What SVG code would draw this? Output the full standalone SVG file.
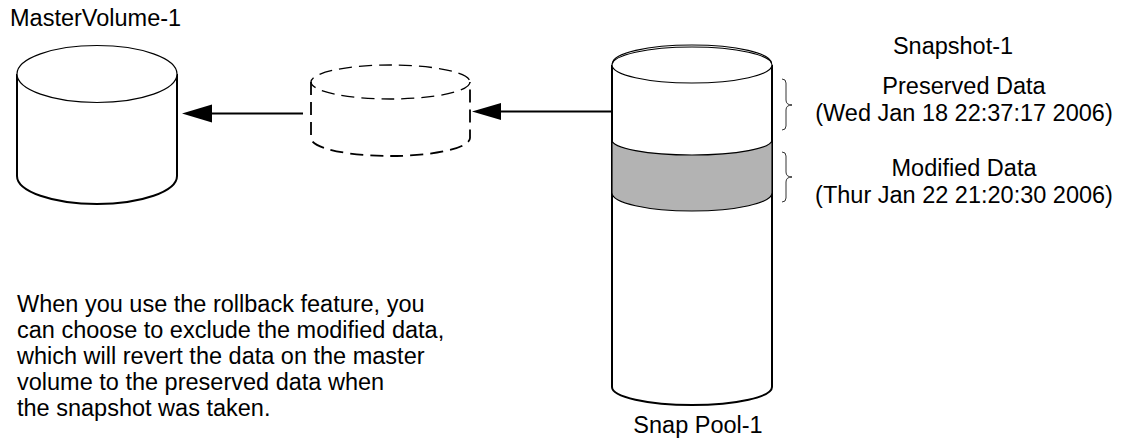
<svg xmlns="http://www.w3.org/2000/svg" width="1125" height="441" viewBox="0 0 1125 441">
  <style>
    .lbl { font-family: "Liberation Sans", Arial, sans-serif; font-size: 23.5px; fill: #000; }
    .mid { text-anchor: middle; }
    .body { fill: #fff; stroke: #000; stroke-width: 2; }
    .rim { fill: #fff; stroke: #000; stroke-width: 1.2; }
    .dash { fill: none; stroke: #000; stroke-dasharray: 13 7; }
    .band { fill: #b3b3b3; stroke: #000; stroke-width: 1.2; }
    .brace { fill: none; stroke: #000; stroke-width: 0.8; }
    .conn { stroke: #000; stroke-width: 2; fill: none; }
    .head { fill: #000; }
  </style>

  <rect width="1125" height="441" fill="#fff"/>

  <!-- master volume -->
  <g id="master-volume">
    <path class="body" d="M17,74 L17,176 A80,28 0 0 0 177,176 L177,74"/>
    <ellipse class="rim" cx="97" cy="74" rx="80" ry="28.5"/>
    <text class="lbl" x="10" y="26">MasterVolume-1</text>
  </g>

  <!-- rollback target (dashed outline) -->
  <g id="rollback-volume">
    <path class="dash" stroke-width="1.8" d="M311,82 L311,138 A79.5,18 0 0 0 470,138 L470,82"/>
    <ellipse class="dash" stroke-width="1.3" cx="390.5" cy="82" rx="79.5" ry="17"/>
  </g>

  <!-- snap pool with preserved / modified regions -->
  <g id="snap-pool">
    <path class="body" d="M612,65 L612,387 A80,18 0 0 0 772,387 L772,65"/>
    <path class="band" d="M612,140 A80,15 0 0 0 772,140 L772,193 A80,18 0 0 1 612,193 Z"/>
    <ellipse class="rim" cx="692" cy="65" rx="80" ry="18"/>
    <path fill="none" stroke="#000" stroke-width="1.2" d="M612.5,63.5 A79.5,18.5 0 0 1 771.5,63.5"/>
    <text class="lbl mid" x="698" y="433">Snap Pool-1</text>
  </g>

  <!-- snapshot labels -->
  <g id="snapshot">
    <text class="lbl mid" x="953" y="54">Snapshot-1</text>
    <path class="brace" d="M782,79 Q786,79 786,83 L786,100 Q786,105 792,105 Q786,105 786,110 L786,126 Q786,130 782,130"/>
    <text class="lbl mid" x="964" y="94">Preserved Data</text>
    <text class="lbl mid" x="964" y="121">(Wed Jan 18 22:37:17 2006)</text>
    <path class="brace" d="M782,152 Q786,152 786,156 L786,172 Q786,177 792,177 Q786,177 786,182 L786,198 Q786,202 782,202"/>
    <text class="lbl mid" x="964" y="176">Modified Data</text>
    <text class="lbl mid" x="964" y="203">(Thur Jan 22 21:20:30 2006)</text>
  </g>

  <!-- note -->
  <g id="note">
    <text class="lbl" x="17" y="312">When you use the rollback feature, you</text>
    <text class="lbl" x="17" y="338">can choose to exclude the modified data,</text>
    <text class="lbl" x="17" y="364">which will revert the data on the master</text>
    <text class="lbl" x="17" y="390">volume to the preserved data when</text>
    <text class="lbl" x="17" y="416">the snapshot was taken.</text>
  </g>

  <!-- connectors -->
  <g id="connectors">
    <line class="conn" x1="303" y1="113.5" x2="210" y2="113.5"/>
    <path class="head" d="M182,113.5 L212,104.5 L212,122.5 Z"/>
    <line class="conn" x1="612" y1="111.5" x2="499" y2="111.5"/>
    <path class="head" d="M472,111.5 L501,103 L501,120 Z"/>
  </g>
</svg>
